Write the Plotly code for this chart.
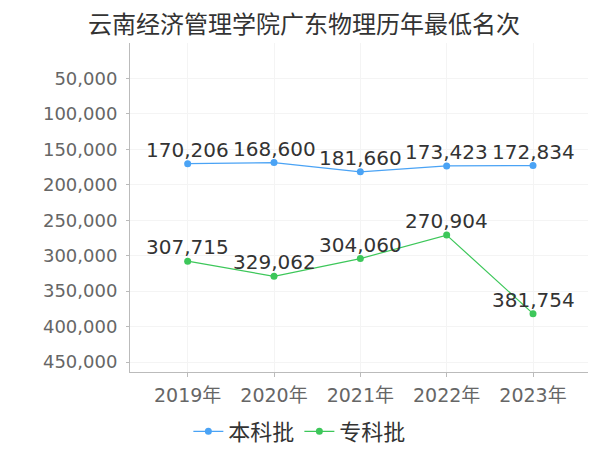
import plotly.graph_objects as go

years = ["2019年", "2020年", "2021年", "2022年", "2023年"]
benke = [170206, 168600, 181660, 173423, 172834]
zhuanke = [307715, 329062, 304060, 270904, 381754]
y_ticks = [50000, 100000, 150000, 200000, 250000, 300000, 350000, 400000, 450000]

FONT = "DejaVu Sans, Noto Sans CJK SC"
CJK = "Noto Sans CJK SC"

def fmt(v):
    return f"{v:,}"

series = [("本科批", benke, "#4AA3F5"), ("专科批", zhuanke, "#3DC75A")]

fig = go.Figure()
annotations = []
for name, vals, color in series:
    fig.add_trace(go.Scatter(
        x=years, y=vals, name=name, mode="lines+markers",
        line=dict(color=color, width=1.2),
        marker=dict(color=color, size=7),
    ))
    for xv, yv in zip(years, vals):
        annotations.append(dict(
            x=xv, y=yv, xref="x", yref="y", text=fmt(yv), showarrow=False,
            xanchor="center", yanchor="bottom", yshift=0,
            font=dict(family=FONT, size=20, color="#333333"),
        ))

fig.update_layout(
    width=592, height=442,
    margin=dict(l=122, r=12, t=35, b=78, autoexpand=False),
    paper_bgcolor="white", plot_bgcolor="white",
    font=dict(family=FONT, color="#666666"),
    annotations=annotations,
    title=dict(text="云南经济管理学院广东物理历年最低名次", x=0.5, xanchor="center",
               xref="container", yref="container", y=1 - 16.5 / 442, yanchor="middle",
               font=dict(family=FONT, size=24, color="#333333")),
    showlegend=True,
    legend=dict(orientation="h", xref="container", x=0.493, xanchor="center",
                y=-0.181, yanchor="middle",
                font=dict(family=CJK, size=22, color="#333333"),
                itemwidth=30, tracegroupgap=0),
    xaxis=dict(
        type="category", range=[-0.668, 4.637],
        showgrid=True, gridcolor="#f4f4f4", gridwidth=1,
        showline=True, linecolor="#bbbbbb", linewidth=1,
        ticks="outside", ticklen=4, tickcolor="#bbbbbb",
        ticklabelstandoff=2,
        tickfont=dict(family=FONT, size=19, color="#666666"),
        zeroline=False,
    ),
    yaxis=dict(
        range=[464000, 0],
        tickvals=y_ticks, ticktext=[fmt(v) for v in y_ticks],
        showgrid=True, gridcolor="#f4f4f4", gridwidth=1,
        showline=True, linecolor="#bbbbbb", linewidth=1,
        ticks="outside", ticklen=3, tickcolor="#bbbbbb",
        ticklabelstandoff=5,
        tickfont=dict(family=FONT, size=18, color="#666666"),
        zeroline=False,
    ),
)

fig.write_html("out.html")
